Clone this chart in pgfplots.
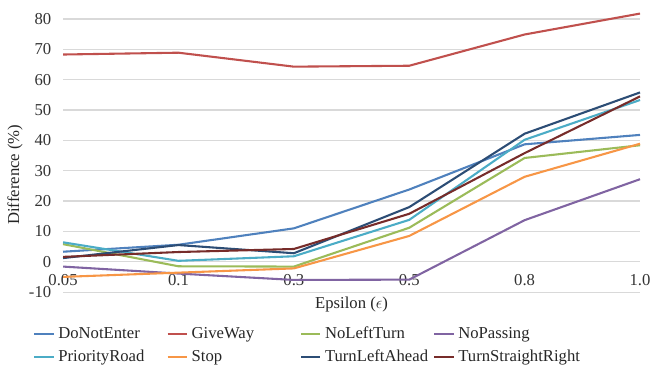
\documentclass[border=0pt]{standalone}
\usepackage{pgfplots}
\pgfplotsset{compat=1.18}
\usepackage{fontspec}
\setmainfont{Liberation Serif}
\definecolor{cDNE}{HTML}{4F81BD}
\definecolor{cGW}{HTML}{C0504D}
\definecolor{cNLT}{HTML}{9BBB59}
\definecolor{cNP}{HTML}{8064A2}
\definecolor{cPR}{HTML}{4BACC6}
\definecolor{cST}{HTML}{F79646}
\definecolor{cTLA}{HTML}{2C4D75}
\definecolor{cTSR}{HTML}{772C2A}
\begin{document}
\begin{tikzpicture}
\begin{axis}[
  scale only axis, width=415.4pt, height=196.6pt,
  font=\fontsize{12}{14}\selectfont,
  clip=false,
  xmin=0, xmax=5, ymin=-10, ymax=80,
  ytick={-10,0,10,20,30,40,50,60,70,80},
  xtick={0,1,2,3,4,5},
  xticklabels={0.05,0.1,0.3,0.5,0.8,1.0},
  /pgf/number format/assume math mode=true,
  axis line style={draw=none}, major tick length=0pt,
  ymajorgrids, grid style={draw=black!15, line width=0.8pt},
  ticklabel style={text=black!80},
  xticklabel style={anchor=center, yshift=8.6pt},
  yticklabel style={xshift=-5pt},
  xlabel={Epsilon ($\epsilon$)},
  xlabel style={at={(axis description cs:0.5,0)}, anchor=center, yshift=-9pt, text=black!85},
  ylabel={Difference (\%)},
  ylabel style={at={(axis description cs:0,0.43)}, anchor=center, yshift=34.6pt, text=black!85},
  legend columns=4,
  legend style={at={(0,0)}, anchor=north west, xshift=-21.6pt, yshift=-24.5pt,
    draw=none, fill=none, inner sep=0pt, row sep=5pt,
    font=\fontsize{12}{14}\selectfont, text=black!85,
    nodes={text width=78pt, inner sep=0pt, align=left, text height=8.5pt, text depth=3pt},
    /tikz/every odd column/.style={column sep=2.5pt}},
  legend image code/.code={\draw[#1, line width=1.5pt] (0pt,0pt) -- (14pt,0pt);},
  every axis plot/.append style={line width=1.5pt, mark=none},
]
\addplot[cDNE] coordinates {(0,3.3) (1,5.6) (2,11) (3,23.8) (4,38.7) (5,41.8)};
\addlegendentry{DoNotEnter}
\addplot[cGW] coordinates {(0,68.3) (1,68.9) (2,64.3) (3,64.6) (4,74.9) (5,81.8)};
\addlegendentry{GiveWay}
\addplot[cNLT] coordinates {(0,5.8) (1,-1.5) (2,-1.6) (3,11.2) (4,34.2) (5,38.4)};
\addlegendentry{NoLeftTurn}
\addplot[cNP] coordinates {(0,-1.6) (1,-3.9) (2,-6) (3,-5.9) (4,13.7) (5,27.2)};
\addlegendentry{NoPassing}
\addplot[cPR] coordinates {(0,6.4) (1,0.3) (2,1.8) (3,13.8) (4,40.2) (5,53.3)};
\addlegendentry{PriorityRoad}
\addplot[cST] coordinates {(0,-5) (1,-3.6) (2,-2.2) (3,8.5) (4,28) (5,38.9)};
\addlegendentry{Stop}
\addplot[cTLA] coordinates {(0,1.2) (1,5.5) (2,2.8) (3,18) (4,42.2) (5,55.8)};
\addlegendentry{TurnLeftAhead}
\addplot[cTSR] coordinates {(0,1.6) (1,3.2) (2,4.2) (3,15.8) (4,35.8) (5,54.5)};
\addlegendentry{TurnStraightRight}
\coordinate (sw) at (rel axis cs:0,0);
\coordinate (ne) at (rel axis cs:1,1);
\end{axis}
\pgfresetboundingbox
\path ([xshift=-45.4pt, yshift=-55.4pt]sw) rectangle ([xshift=7.9pt, yshift=13.7pt]ne);
\end{tikzpicture}
\end{document}
